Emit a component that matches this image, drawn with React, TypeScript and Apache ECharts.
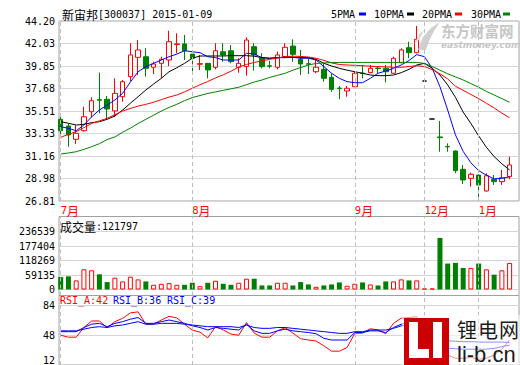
import { useEffect, useRef } from "react";
import * as echarts from "echarts";

// [open, close, low, high]
const candles: number[][] = [
  [34.70, 33.60, 32.87, 34.98], [34.06, 33.19, 32.06, 34.32], [32.77, 33.35, 32.32, 34.15], [33.60, 34.95, 33.51, 35.92],
  [35.44, 36.50, 34.90, 36.83], [36.60, 36.55, 35.28, 39.21], [36.64, 35.70, 34.80, 36.95], [35.51, 37.21, 34.95, 38.66],
  [36.89, 38.34, 36.40, 38.50], [38.82, 40.92, 38.40, 42.05], [40.69, 41.40, 38.98, 42.36], [40.75, 39.63, 38.82, 41.56],
  [39.73, 40.05, 39.08, 40.27], [40.11, 40.50, 38.66, 40.75], [40.43, 42.20, 39.85, 43.26], [41.92, 41.98, 41.08, 43.01],
  [41.98, 41.33, 40.43, 42.85], [41.01, 40.60, 39.30, 41.40], [40.02, 40.08, 39.47, 40.92], [40.11, 39.47, 38.66, 40.15],
  [39.73, 41.33, 39.53, 42.05], [41.23, 40.92, 40.27, 42.05], [41.33, 40.27, 40.11, 41.88], [39.73, 40.11, 39.21, 40.60],
  [39.79, 42.36, 38.92, 42.62], [41.72, 40.92, 39.40, 42.05], [40.60, 39.79, 39.63, 41.08], [39.87, 39.83, 39.63, 40.36],
  [39.73, 40.92, 39.53, 41.23], [40.75, 41.66, 40.60, 42.05], [41.78, 40.98, 40.27, 42.43], [40.50, 40.05, 38.98, 41.40],
  [40.07, 40.03, 39.08, 40.60], [39.30, 39.73, 39.15, 40.43], [39.53, 38.66, 38.34, 40.05], [38.76, 37.60, 37.37, 39.15],
  [37.72, 37.68, 36.64, 37.92], [37.44, 37.70, 36.89, 37.92], [37.85, 39.15, 37.85, 39.30], [39.17, 39.12, 38.66, 39.95],
  [39.21, 39.63, 39.15, 39.95], [39.65, 39.61, 39.15, 39.85], [39.63, 39.30, 38.28, 39.95], [39.15, 40.60, 39.08, 40.75],
  [40.17, 41.40, 40.11, 41.56], [41.62, 41.14, 40.60, 42.20], [41.14, 42.43, 41.08, 43.72], [38.40, 38.40, 38.40, 38.40],
  [34.73, 34.73, 34.73, 34.73], [33.00, 32.93, 31.57, 34.54], [32.08, 32.04, 31.57, 32.38], [31.64, 29.74, 29.49, 31.70],
  [29.87, 28.84, 28.45, 30.29], [29.00, 29.39, 28.19, 29.55], [29.32, 28.36, 27.17, 29.35], [27.78, 29.25, 27.72, 29.49],
  [28.91, 28.68, 28.36, 29.32], [28.68, 29.06, 28.36, 29.81], [29.16, 30.29, 28.91, 31.09],
];

const volumes = [
  57100, 60200, 41700, 92600, 88000, 69500, 34000, 54000, 37100, 58700,
  46300, 37100, 21600, 26200, 29300, 21600, 21600, 30900, 15400, 30900,
  40100, 26200, 21600, 30900, 49400, 49400, 18500, 18500, 30900, 30900,
  18500, 34000, 23200, 12400, 18500, 23200, 32400, 17000, 26200, 32400,
  23200, 18500, 37100, 37100, 46300, 41700, 41700, 4600, 4600, 236539,
  118900, 122000, 98800, 98800, 118900, 92600, 67900, 88000, 121797,
];

const ma5 = [
  33.99, 33.83, 33.60, 34.15, 34.95, 35.60, 36.08, 36.57, 37.21, 38.3,
  39.30, 39.79, 40.11, 40.43, 40.75, 41.0, 41.33, 41.23, 41.14, 40.75,
  40.66, 40.43, 40.43, 40.43, 41.08, 41.01, 40.66, 40.60, 40.66, 40.66,
  40.69, 40.60, 40.60, 40.43, 39.79, 39.15, 38.66, 38.34, 38.24, 38.24,
  38.66, 39.15, 39.37, 39.63, 39.95, 40.38, 40.95, 40.75, 39.63, 37.85,
  35.6, 33.2, 31.6, 30.5, 29.75, 29.3, 28.95, 29.0, 29.15,
];
const ma10 = [
  34.47, 34.32, 34.15, 34.22, 34.38, 34.47, 34.7, 35.02, 35.6, 36.25,
  36.89, 37.53, 38.11, 38.66, 39.3, 39.68, 40.11, 40.6, 40.82, 40.82,
  40.82, 40.82, 40.85, 40.85, 40.85, 40.8, 40.66, 40.6, 40.65, 40.72,
  40.69, 40.68, 40.67, 40.5, 40.11, 39.85, 39.63, 39.45, 39.3, 39.15,
  38.98, 38.92, 38.92, 38.98, 39.21, 39.53, 39.95, 40.11, 39.63, 38.98,
  38.02, 36.83, 35.4, 34.3, 33.1, 32.0, 31.1, 30.4, 29.8,
];
const ma20 = [
  32.96, 33.25, 33.51, 33.9, 34.3, 34.55, 34.8, 35.15, 35.5, 35.75,
  35.98, 36.15, 36.35, 36.6, 36.85, 37.05, 37.35, 37.7, 38.05, 38.35,
  38.7, 39.0, 39.35, 39.75, 40.0, 40.2, 40.35, 40.5, 40.62, 40.75,
  40.8, 40.78, 40.72, 40.6, 40.4, 40.15, 40.0, 39.95, 39.92, 39.88,
  39.83, 39.79, 39.77, 39.73, 39.73, 39.8, 39.88, 39.8, 39.5, 39.1,
  38.6, 37.9, 37.5, 37.1, 36.7, 36.25, 35.8, 35.3, 34.85,
];
const ma30 = [
  31.35, 31.45, 31.57, 31.8, 32.06, 32.35, 32.75, 33.0, 33.45, 33.85,
  34.3, 34.7, 35.1, 35.5, 35.85, 36.15, 36.5, 36.8, 37.0, 37.2,
  37.35, 37.5, 37.65, 37.8, 38.05, 38.3, 38.5, 38.75, 38.95, 39.15,
  39.45, 39.7, 39.95, 40.1, 40.15, 40.18, 40.2, 40.2, 40.2, 40.2,
  40.2, 40.2, 40.2, 40.2, 40.2, 40.2, 40.2, 40.1, 39.8, 39.45,
  39.1, 38.8, 38.5, 38.15, 37.8, 37.4, 37.05, 36.7, 36.35,
];

const rsiA = [
  47.7, 45.4, 45.4, 57, 64.8, 64.8, 56.8, 64, 68, 74.5,
  75.8, 60.9, 61, 66, 70.5, 68.5, 61, 54, 51.4, 44.6,
  58, 54.1, 49.1, 47.7, 62.9, 50.3, 45.4, 45.4, 53, 56.8,
  50.3, 43.5, 42, 40.8, 35, 28.6, 28.6, 33, 50, 50.3,
  55.5, 54.1, 49.5, 62, 68.2, 69, 70, 38, 27, 27,
  24, 20, 20, 21, 19, 20, 24, 31, 42,
];
const rsiB = [
  52, 52, 52, 57, 61, 62, 58, 62, 64, 67,
  69, 62, 62, 64, 66, 64, 62, 59, 57, 54,
  57, 56, 55, 54, 61, 53, 50, 50, 53, 55,
  53, 52, 51, 49.5, 44, 42, 42, 42, 51, 51,
  53, 53, 51, 57, 61, 63, 65, 50, 38, 33,
  32, 31.5, 31, 31, 31, 31, 32, 34, 36,
];
const rsiC = [
  53, 53, 53, 55, 57, 58, 57, 59, 60, 62,
  64, 61, 61, 62, 62, 62, 61, 60, 59, 58,
  58, 58, 58, 57, 60, 57, 56, 56, 57, 57,
  56, 55, 54, 53, 52, 51, 50, 50, 52, 52,
  54, 54, 54, 56, 59, 61, 63, 53, 47, 42,
  41, 40.5, 40, 40, 39.5, 39.5, 39.5, 39.5, 39,
];

const priceTicks = ["26.81", "28.98", "31.16", "33.33", "35.51", "37.68", "39.85", "42.03", "44.20"];
const volTicks = ["0", "59135", "118269", "177404", "236539"];
const rsiTicks = ["12", "48", "84"];
const monthIdx = [0, 17, 38, 47, 54];
const monthNames = ["7月", "8月", "9月", "12月", "1月"];
const maNames = ["5PMA", "10PMA", "20PMA", "30PMA"];

const MONO = '"DejaVu Sans Mono", monospace';
const CJK = '"Noto Sans CJK SC", sans-serif';
const RED = "#ff0000";
const GREEN = "#008000";
const BLUE = "#0000ff";
const maColors = [BLUE, "#000000", RED, GREEN];

function buildOption() {
  const cats = candles.map((_, i) => String(i));
  const DL = 56.83, DW = 456.66, FL = 59, FW = 460;
  const frameBorder = "#a0a0a0";
  const splitColor = "#d6d6d6";

  const hiddenX = (g: number, type = "value") =>
    type === "value"
      ? { type: "value", gridIndex: g, show: false, min: 0, max: 1 }
      : { type: "category", gridIndex: g, data: cats, boundaryGap: true, axisLine: { show: false }, axisTick: { show: false }, axisLabel: { show: false }, splitLine: { show: false } };

  const xAxis: any[] = [
    hiddenX(0),
    {
      type: "category", gridIndex: 1, data: cats, boundaryGap: true,
      axisLine: { show: false }, axisTick: { show: false }, splitLine: { show: false },
      axisLabel: {
        show: true,
        interval: (i: number) => monthIdx.includes(i),
        align: "left",
        margin: 3,
        formatter: (_v: string, i: number) => {
          const k = monthIdx.indexOf(i);
          if (k < 0) return "";
          const n = monthNames[k].replace("月", "");
          return `{n|${n}}{c|月}`;
        },
        rich: {
          n: { fontFamily: MONO, fontSize: 10.5, color: RED },
          c: { fontFamily: CJK, fontSize: 12, color: RED },
        },
      },
    },
    hiddenX(2), hiddenX(3), hiddenX(4, "category"), hiddenX(5), hiddenX(6), hiddenX(7, "category"),
  ];

  const labelAxis = (g: number, n: number, labels: string[], hideFirst = false) => ({
    type: "value", gridIndex: g, min: 0, max: n, interval: 1,
    axisLine: { show: false }, axisTick: { show: false },
    axisLabel: {
      margin: 4, fontFamily: MONO, fontSize: 10, color: "#000",
      formatter: (v: number) => (hideFirst && v === 0 ? "" : labels[Math.round(v)]),
    },
    splitLine: { show: true, lineStyle: { color: splitColor, width: 1 } },
  });
  const hiddenY = (g: number, min: number, max: number) => ({ type: "value", gridIndex: g, show: false, min, max });

  const volScale = 236539 / 51.6; // volume per px
  const yAxis: any[] = [
    labelAxis(0, 8, priceTicks),
    hiddenY(1, +priceTicks[0], +priceTicks[priceTicks.length - 1]),
    hiddenY(2, 0, 1),
    labelAxis(3, 4, volTicks),
    hiddenY(4, -6 * volScale, 73 * volScale),
    hiddenY(5, 0, 1),
    labelAxis(6, 2, rsiTicks, true),
    hiddenY(7, 12, 84 + 10 / 0.875),
  ];

  const grid = [
    { left: FL, top: 21, width: FW, height: 180, show: true, borderColor: frameBorder, borderWidth: 1 },
    { left: DL, top: 21, width: DW, height: 180 },
    { left: FL, top: 216.5, width: FW, height: 79, show: true, borderColor: frameBorder, borderWidth: 1 },
    { left: FL, top: 231.5, width: FW, height: 58 },
    { left: DL, top: 216.5, width: DW, height: 79 },
    { left: FL, top: 295.5, width: FW, height: 73, show: true, borderColor: frameBorder, borderWidth: 1 },
    { left: FL, top: 305.5, width: FW, height: 63 },
    { left: DL, top: 295.5, width: DW, height: 73 },
  ];

  const monthLines = (ai: number) => ({
    type: "line", xAxisIndex: ai, yAxisIndex: ai, data: [], silent: true, z: 1,
    markLine: {
      silent: true, symbol: ["none", "none"], label: { show: false }, animation: false,
      lineStyle: { type: [4, 3], color: "#bdbdbd", width: 1 },
      emphasis: { disabled: true },
      data: monthIdx.map((i) => ({ xAxis: cats[i] })),
    },
  });

  const candleData = candles.map(([o, c, l, h]) => {
    if (o === c && l === h) {
      return {
        value: [o, c, l, h],
        itemStyle: { color: "#000", color0: "#000", borderColor: "#000", borderColor0: "#000", borderColorDoji: "#000" },
      };
    }
    return [o, c, l, h];
  });

  const volData = volumes.map((v, i) => {
    const [o, c] = candles[i];
    const up = c >= o;
    return {
      value: v,
      itemStyle: up ? { color: "#fff", borderColor: RED, borderWidth: 1 } : { color: GREEN, borderColor: GREEN, borderWidth: 0 },
    };
  });

  const maLine = (k: number, data: number[]) => ({
    name: maNames[k], type: "line", xAxisIndex: 1, yAxisIndex: 1, data, symbol: "none", showSymbol: false, z: 4,
    lineStyle: { color: maColors[k], width: 1 }, itemStyle: { color: maColors[k] }, emphasis: { disabled: true },
  });
  const rsiLine = (name: string, data: number[], color: string) => ({
    name, type: "line", xAxisIndex: 7, yAxisIndex: 7, data, symbol: "none", showSymbol: false, z: 4,
    lineStyle: { color, width: 1 }, itemStyle: { color }, emphasis: { disabled: true },
  });

  const lastVol = volumes[volumes.length - 1];
  const last = (a: number[]) => Math.round(a[a.length - 1]);

  const txt = (x: number, y: number, style: any, z = 10) => ({
    type: "text", x, y, z, silent: true, style: { verticalAlign: "middle", ...style },
  });

  // MA legend: name followed by a colour dash
  const legendX = [331, 374, 422, 471];
  const legendDashX = [359, 407, 455, 503];
  const legendEls: any[] = [];
  maNames.forEach((n, k) => {
    legendEls.push(txt(legendX[k], 14, { text: n, fontFamily: MONO, fontSize: 10, fill: "#000" }));
    legendEls.push({ type: "rect", z: 10, silent: true, shape: { x: legendDashX[k], y: 12.5, width: 7, height: 3 }, style: { fill: maColors[k] } });
  });

  const graphic: any[] = [
    txt(62, 14, {
      text: "{c|新宙邦}{a|[300037] 2015-01-09}",
      rich: { c: { fontFamily: CJK, fontSize: 12, fill: "#000" }, a: { fontFamily: MONO, fontSize: 10, fill: "#000" } },
    }),
    ...legendEls,
    txt(60, 226, {
      text: `{c|成交量}{a|:${lastVol}}`,
      rich: { c: { fontFamily: CJK, fontSize: 12, fill: "#000" }, a: { fontFamily: MONO, fontSize: 10, fill: "#000" } },
    }),
    txt(60, 300, { text: `RSI_A:${last(rsiA)}`, fontFamily: MONO, fontSize: 10, fill: RED }),
    txt(113, 300, { text: `RSI_B:${last(rsiB)}`, fontFamily: MONO, fontSize: 10, fill: BLUE }),
    txt(167, 300, { text: `RSI_C:${last(rsiC)}`, fontFamily: MONO, fontSize: 10, fill: BLUE }),
    txt(55, 360, { text: rsiTicks[0], fontFamily: MONO, fontSize: 10, fill: "#000", align: "right" }),
    // eastmoney watermark
    { type: "polygon", z: 50, silent: true, shape: { points: [[418, 50], [423, 37], [431, 28], [440, 22], [434, 31], [429, 41], [426, 50]] }, style: { fill: "#cfcfcf" } },
    { type: "polygon", z: 50, silent: true, shape: { points: [[414, 44], [420, 33], [424, 30], [419, 40]] }, style: { fill: "#d8d8d8" } },
    txt(441, 30, { text: "东方财富网", fontFamily: CJK, fontSize: 14.5, fontWeight: "bold", fill: "#c6c6c6", lineHeight: 15 }, 50),
    txt(441, 45, { text: "eastmoney.com", fontFamily: '"DejaVu Sans", sans-serif', fontSize: 9, fontWeight: "bold", fontStyle: "italic", fill: "#c6c6c6", lineHeight: 10 }, 50),
    // li-b.cn watermark
    { type: "rect", z: 50, silent: true, shape: { x: 402, y: 315, width: 118, height: 50 }, style: { fill: "rgba(255,255,255,0.55)" } },
    { type: "rect", z: 51, silent: true, shape: { x: 404, y: 318, width: 45, height: 47 }, style: { fill: "#cc0000" } },
    { type: "rect", z: 52, silent: true, shape: { x: 409, y: 322, width: 9, height: 36 }, style: { fill: "#fff" } },
    { type: "rect", z: 52, silent: true, shape: { x: 409, y: 349, width: 20, height: 9 }, style: { fill: "#fff" } },
    { type: "rect", z: 52, silent: true, shape: { x: 433, y: 322, width: 9, height: 36 }, style: { fill: "#fff" } },
    txt(457, 329, { text: "锂", fontFamily: CJK, fontSize: 20, fill: "#1a1a1a" }, 52),
    txt(478, 329, { text: "电", fontFamily: CJK, fontSize: 20, fill: "#1a1a1a" }, 52),
    txt(499, 329, { text: "网", fontFamily: CJK, fontSize: 20, fill: "#1a1a1a" }, 52),
    txt(457, 354, { text: "li-b.cn", fontFamily: '"Liberation Sans", sans-serif', fontSize: 22, fill: "#1a1a1a" }, 52),
  ];

  return {
    animation: false,
    backgroundColor: "#fff",
    grid,
    xAxis,
    yAxis,
    graphic,
    series: [
      monthLines(1), monthLines(4), monthLines(7),
      {
        type: "candlestick", xAxisIndex: 1, yAxisIndex: 1, data: candleData, barWidth: 5, z: 3,
        itemStyle: { color: "#fff", color0: GREEN, borderColor: RED, borderColor0: GREEN, borderWidth: 1 },
        emphasis: { disabled: true },
      },
      maLine(0, ma5),
      maLine(1, ma10),
      maLine(2, ma20),
      maLine(3, ma30),
      { type: "bar", xAxisIndex: 4, yAxisIndex: 4, data: volData, barWidth: 5, z: 3, emphasis: { disabled: true } },
      rsiLine("RSI_A", rsiA, RED),
      rsiLine("RSI_B", rsiB, BLUE),
      rsiLine("RSI_C", rsiC, BLUE),
    ],
  };
}

export default function App() {
  const ref = useRef<HTMLDivElement>(null);
  useEffect(() => {
    if (!ref.current) return;
    const chart = echarts.init(ref.current, undefined, { renderer: "svg" });
    chart.setOption(buildOption() as any);
    return () => chart.dispose();
  }, []);
  return (
    <div
      ref={ref}
      style={{ position: "fixed", left: 0, top: 0, width: 520, height: 365, background: "#fff" }}
    />
  );
}
